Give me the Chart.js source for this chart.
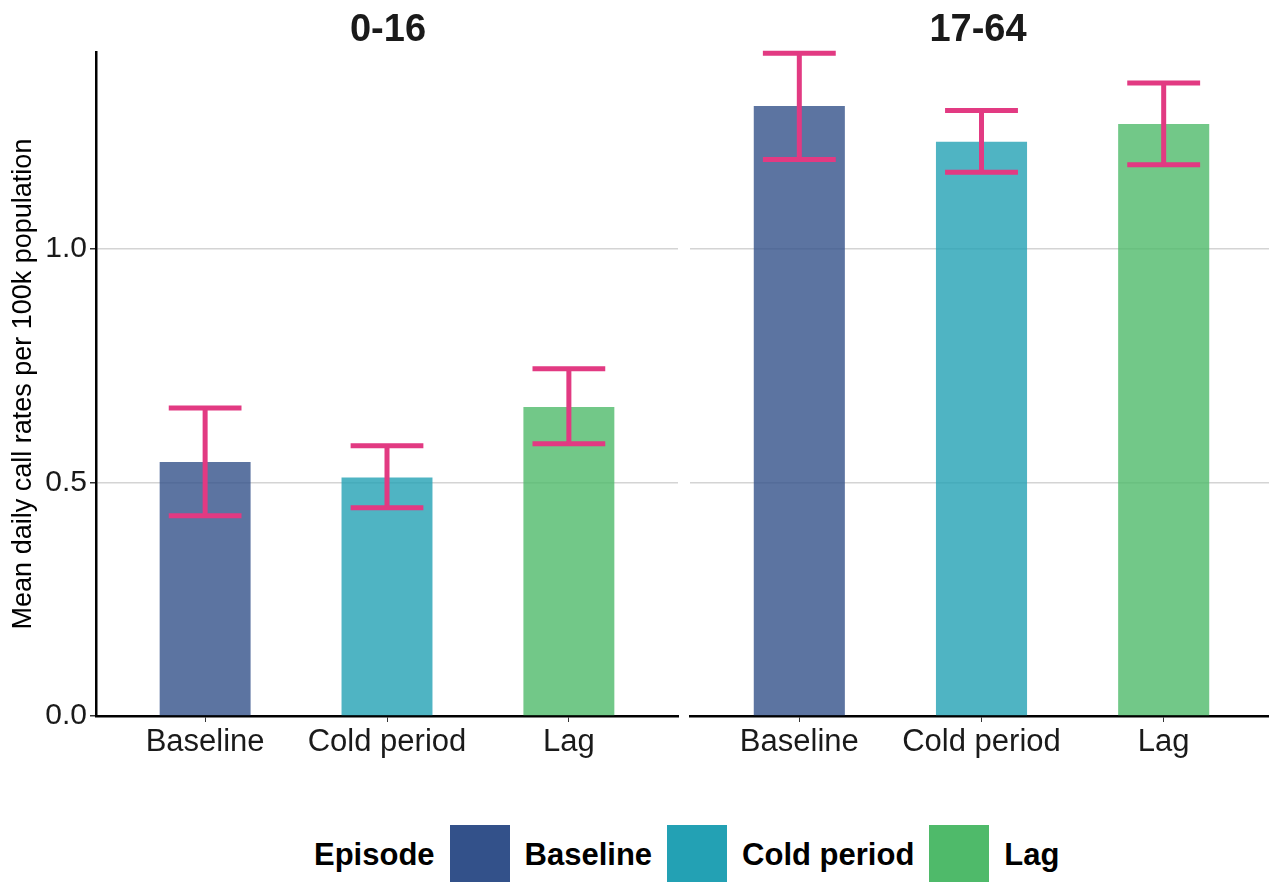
<!DOCTYPE html>
<html>
<head>
<meta charset="utf-8">
<script src="https://cdn.jsdelivr.net/npm/chart.js@4.4.1/dist/chart.umd.min.js"></script>
<style>
  html, body { margin: 0; padding: 0; background: #fff; overflow: hidden; }
  body { width: 1269px; height: 882px; position: relative; font-family: 'Liberation Sans', Arial, sans-serif; }
  .panel { position: absolute; top: 0; height: 790px; }
  #leftWrap { left: 0; width: 684px; }
  #rightWrap { left: 684px; width: 592px; }
  .strip { position: absolute; top: 7px; font-size: 38px; font-weight: bold; color: #1a1a1a; transform: translateX(-50%); line-height: 42px; }
  .legend { position: absolute; left: 314px; top: 825px; height: 60px; display: flex; align-items: center; gap: 15px; font-size: 31px; font-weight: bold; color: #000; }
  .swatch { width: 60px; height: 60px; }
</style>
</head>
<body>
<div class="panel" id="leftWrap"><canvas id="leftChart"></canvas></div>
<div class="panel" id="rightWrap"><canvas id="rightChart"></canvas></div>
<div class="strip" id="strip0" style="left:388px"></div>
<div class="strip" id="strip1" style="left:978px"></div>
<div class="legend" id="legend"></div>

<script>
const groups = ['0-16', '17-64'];
const categories = ['Baseline', 'Cold period', 'Lag'];

const meanYoung = [0.544, 0.511, 0.662];
const lowYoung = [0.429, 0.446, 0.583];
const highYoung = [0.660, 0.579, 0.744];

const meanAdult = [1.307, 1.230, 1.268];
const lowAdult = [1.192, 1.165, 1.181];
const highAdult = [1.420, 1.297, 1.356];

const yTicks = [0, 0.5, 1.0];

const legendColors = ['#33518a', '#23a1b4', '#4fba6a'];
const barColors = ['rgba(51,81,138,0.8)', 'rgba(35,161,180,0.8)', 'rgba(79,186,106,0.8)'];
const errColor = '#e23a82';

Chart.defaults.font.family = "'Liberation Sans', Arial, sans-serif";
Chart.defaults.animation = false;

const errorBars = {
  id: 'errorBars',
  afterDatasetsDraw(chart, args, opts) {
    const { ctx, scales: { x, y } } = chart;
    const half = Math.abs(x.getPixelForValue(1.2) - x.getPixelForValue(1));
    ctx.save();
    ctx.strokeStyle = errColor;
    ctx.lineWidth = 5;
    ctx.lineCap = 'butt';
    opts.lo.forEach((lo, i) => {
      const px = x.getPixelForValue(i + 1);
      const yl = y.getPixelForValue(lo);
      const yh = y.getPixelForValue(opts.hi[i]);
      ctx.beginPath();
      ctx.moveTo(px, yl);
      ctx.lineTo(px, yh);
      ctx.moveTo(px - half, yl);
      ctx.lineTo(px + half, yl);
      ctx.moveTo(px - half, yh);
      ctx.lineTo(px + half, yh);
      ctx.stroke();
    });
    ctx.restore();
  },
};

function makeChart(id, means, lo, hi, withYAxis) {
  const ctx = document.getElementById(id).getContext('2d');
  return new Chart(ctx, {
    type: 'bar',
    data: {
      datasets: [{
        data: means.map((v, i) => ({ x: i + 1, y: v })),
        backgroundColor: barColors,
        borderWidth: 0,
        barPercentage: 0.5,
        categoryPercentage: 1.0,
      }],
    },
    options: {
      responsive: true,
      maintainAspectRatio: false,
      layout: { padding: withYAxis ? { top: 52, right: 6 } : { top: 52, left: 6, right: 3 } },
      plugins: {
        legend: { display: false },
        tooltip: { enabled: false },
        errorBars: { lo, hi },
      },
      scales: {
        x: {
          type: 'linear',
          min: 0.4,
          max: 3.6,
          offset: false,
          afterBuildTicks: s => { s.ticks = categories.map((c, i) => ({ value: i + 1 })); },
          afterFit: s => { s.height = 74; },
          ticks: {
            callback: v => categories[v - 1],
            color: '#1a1a1a',
            font: { size: 31 },
            padding: 2,
            maxRotation: 0,
            autoSkip: false,
          },
          grid: { offset: false, drawOnChartArea: false, drawTicks: true, tickLength: 6, tickColor: '#333' },
          border: { display: true, color: '#000', width: 2.5 },
        },
        y: {
          min: 0,
          max: 1.4225,
          afterBuildTicks: s => { s.ticks = yTicks.map(v => ({ value: v })); },
          afterFit: s => { s.width = withYAxis ? 96 : 0; },
          ticks: {
            display: withYAxis,
            callback: v => v.toFixed(1),
            color: '#1a1a1a',
            font: { size: 30 },
            padding: 3,
          },
          grid: {
            color: c => (c.tick && c.tick.value === 0 ? 'rgba(0,0,0,0)' : '#d4d4d4'),
            lineWidth: 1.5,
            drawTicks: withYAxis,
            tickLength: 6,
            tickColor: '#333',
          },
          border: { display: withYAxis, color: '#000', width: 2.5 },
          title: {
            display: withYAxis,
            text: 'Mean daily call rates per 100k population',
            color: '#000',
            font: { size: 27 },
            padding: { top: 7, bottom: 0 },
          },
        },
      },
    },
    plugins: [errorBars],
  });
}

makeChart('leftChart', meanYoung, lowYoung, highYoung, true);
makeChart('rightChart', meanAdult, lowAdult, highAdult, false);

document.getElementById('strip0').textContent = groups[0];
document.getElementById('strip1').textContent = groups[1];

const legend = document.getElementById('legend');
legend.innerHTML = '<span>Episode</span>' + categories
  .map((c, i) => `<span class="swatch" style="background:${legendColors[i]}"></span><span>${c}</span>`)
  .join('');
</script>
</body>
</html>
